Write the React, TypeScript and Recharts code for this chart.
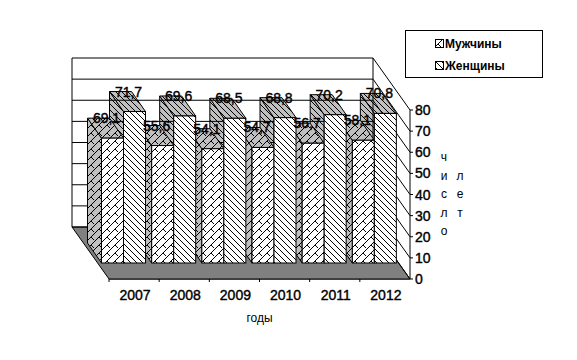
import React from "react";
import { Bar, BarChart, LabelList, Legend, XAxis, YAxis } from "recharts";

const years = ["2007", "2008", "2009", "2010", "2011", "2012"];
const men = [59.1, 55.6, 54.1, 54.7, 56.7, 58.1];
const women = [71.7, 69.6, 68.5, 68.8, 70.2, 70.8];
const menLabels = ["69,1", "55,6", "54,1", "54,7", "56,7", "58,1"];
const womenLabels = ["71,7", "69,6", "68,5", "68,8", "70,2", "70,8"];
const yTicks = [0, 10, 20, 30, 40, 50, 60, 70, 80];

const data = years.map((year, i) => ({
  year,
  men: men[i],
  women: women[i],
  menLabel: menLabels[i],
  womenLabel: womenLabels[i],
}));

const W = 577;
const H = 360;
const FONT = "'Liberation Sans', Arial, sans-serif";

// floor depth of the 3D box, and how far the bars stand back from the front edge
const WALL_DX = -37;
const WALL_DY = -52;
const BAR_DX = -11;
const BAR_DY = -16;
const SIDE_DX = -14;
const SIDE_DY = -20;

const PLOT_LEFT = 109;
const PLOT_RIGHT = 410;
const PLOT_TOP = 110;
const PLOT_BOTTOM = 279;

const backMargin = { top: PLOT_TOP, left: PLOT_LEFT, right: 0, bottom: 0 };
const frontMargin = { top: PLOT_TOP, left: PLOT_LEFT, right: W - PLOT_RIGHT, bottom: H - PLOT_BOTTOM };
const TEXT_WEIGHT = 0.4;

function Patterns() {
  const notches = "M0 8L8 0M-2 2L2 -2M6 10L10 6M3 5L6 8";
  const hatch = "M-1 -1L7 7M-4 2L2 8M2 -4L8 2";
  return (
    <svg width={0} height={0} style={{ position: "absolute" }}>
      <defs>
        <pattern id="menFront" width={8} height={8} patternUnits="userSpaceOnUse">
          <rect width={8} height={8} fill="#fff" />
          <path d={notches} stroke="#000" strokeWidth={1} fill="none" />
        </pattern>
        <pattern id="menSide" width={8} height={8} patternUnits="userSpaceOnUse">
          <rect width={8} height={8} fill="#c0c0c0" />
          <path d={notches} stroke="#000" strokeWidth={1} fill="none" />
        </pattern>
        <pattern id="womenFront" width={6} height={6} patternUnits="userSpaceOnUse">
          <rect width={6} height={6} fill="#fff" />
          <path d={hatch} stroke="#000" strokeWidth={1} fill="none" />
        </pattern>
        <pattern id="womenSide" width={6} height={6} patternUnits="userSpaceOnUse">
          <rect width={6} height={6} fill="#c0c0c0" />
          <path d={hatch} stroke="#000" strokeWidth={1} fill="none" />
        </pattern>
      </defs>
    </svg>
  );
}

const pts = (list: number[][]) => list.map((p) => p.join(",")).join(" ");
const nothing = () => null;

function sideTop(sidePattern: string) {
  return (props: any) => {
    const { x, y, width, height } = props;
    const fx = x + BAR_DX;
    const fy = y + BAR_DY;
    return (
      <g stroke="#000" strokeWidth={1} fill={`url(#${sidePattern})`}>
        <polygon points={pts([[fx, fy], [fx, fy + height], [fx + SIDE_DX, fy + height + SIDE_DY], [fx + SIDE_DX, fy + SIDE_DY]])} />
        <polygon points={pts([[fx, fy], [fx + width, fy], [fx + width + SIDE_DX, fy + SIDE_DY], [fx + SIDE_DX, fy + SIDE_DY]])} />
      </g>
    );
  };
}

function frontFace(pattern: string) {
  return (props: any) => (
    <rect
      x={props.x + BAR_DX}
      y={props.y + BAR_DY}
      width={props.width}
      height={props.height}
      fill={`url(#${pattern})`}
      stroke="#000"
      strokeWidth={1}
    />
  );
}

function BarLabel(props: any) {
  const { x, y, width, value } = props;
  return (
    <text
      x={x + BAR_DX + width / 2 - 6}
      y={y + BAR_DY + SIDE_DY + 5}
      textAnchor="middle"
      fontFamily={FONT}
      fontSize={14}
      fill="#000"
      stroke="#000"
      strokeWidth={TEXT_WEIGHT}
    >
      {value}
    </text>
  );
}

// value ticks also draw the back and side walls, so they sit on the axis scale
function WallTick(props: any) {
  const { y, payload } = props;
  const v = payload.value;
  const backL = PLOT_LEFT + WALL_DX;
  const backR = PLOT_RIGHT + WALL_DX;
  return (
    <g>
      {v === 0 && (
        <polygon
          points={pts([[backL, y + WALL_DY], [backR, y + WALL_DY], [PLOT_RIGHT, y], [PLOT_LEFT, y]])}
          fill="#808080"
          stroke="#000"
          strokeWidth={1}
        />
      )}
      {v === 80 && (
        <g stroke="#000" strokeWidth={1}>
          <line x1={backL} y1={y + WALL_DY} x2={backL} y2={PLOT_BOTTOM + WALL_DY} />
          <line x1={backR} y1={y + WALL_DY} x2={backR} y2={PLOT_BOTTOM + WALL_DY} />
        </g>
      )}
      <line x1={backL} y1={y + WALL_DY} x2={backR} y2={y + WALL_DY} stroke="#000" strokeWidth={1} />
      <line x1={backR} y1={y + WALL_DY} x2={PLOT_RIGHT} y2={y} stroke="#000" strokeWidth={1} />
      <text x={PLOT_RIGHT + 5} y={y + 5} fontFamily={FONT} fontSize={14} fill="#000" stroke="#000" strokeWidth={TEXT_WEIGHT}>
        {v}
      </text>
    </g>
  );
}

function YearTick(props: any) {
  const { x, y, payload } = props;
  const band = (PLOT_RIGHT - PLOT_LEFT) / years.length;
  return (
    <g>
      <line x1={x - band / 2} y1={PLOT_BOTTOM} x2={x - band / 2} y2={PLOT_BOTTOM + 3} stroke="#000" />
      <text x={x + 1} y={y + 13} textAnchor="middle" fontFamily={FONT} fontSize={14} fill="#000" stroke="#000" strokeWidth={TEXT_WEIGHT}>
        {payload.value}
      </text>
    </g>
  );
}

function YTitle() {
  const rows = [157, 176, 194, 213, 231];
  const left = ["ч", "и", "с", "л", "о"];
  const right = ["", "л", "е", "т", ""];
  return (
    <g fontFamily={FONT} fontSize={12} fill="#000">
      {rows.map((y, i) => (
        <g key={y}>
          <text x={444} y={y + 4} textAnchor="middle">{left[i]}</text>
          <text x={460} y={y + 4} textAnchor="middle">{right[i]}</text>
        </g>
      ))}
    </g>
  );
}

function LegendBox(props: any) {
  const items = props.payload || [];
  return (
    <div style={{ width: 138, height: 48, boxSizing: "border-box", border: "1px solid #000", background: "#fff", paddingTop: 2 }}>
      {items.map((item: any) => (
        <div key={item.value} style={{ display: "flex", alignItems: "center", height: 22, paddingLeft: 29, fontFamily: FONT, fontSize: 12, fontWeight: 700, color: "#000" }}>
          <svg width={10} height={10} style={{ marginRight: 0 }}>
            <rect x={0.5} y={0.5} width={8} height={8} fill={item.color} stroke="#000" />
          </svg>
          {item.value}
        </div>
      ))}
    </div>
  );
}

// one transparent sheet of the 3D picture: same plot area, same scales
function Sheet({ menShape, womenShape }: any) {
  return (
    <div style={layer}>
      <BarChart width={W} height={H} data={data} margin={frontMargin} barCategoryGap="7%" barGap={0}>
        <XAxis dataKey="year" hide />
        <YAxis domain={[0, 80]} ticks={yTicks} hide />
        <Bar dataKey="men" isAnimationActive={false} shape={menShape} />
        <Bar dataKey="women" isAnimationActive={false} shape={womenShape} />
      </BarChart>
    </div>
  );
}

const layer: React.CSSProperties = { position: "absolute", left: 0, top: 0 };

export default function App() {
  return (
    <div style={{ position: "absolute", left: 0, top: 0, width: W, height: H, background: "#fff" }}>
      <Patterns />
      <div style={layer}>
        <BarChart width={W} height={H} data={data} margin={backMargin} barCategoryGap="7%" barGap={0}>
          <XAxis
            dataKey="year"
            height={H - PLOT_BOTTOM}
            interval={0}
            tickLine={false}
            axisLine={{ stroke: "#000" }}
            tick={<YearTick />}
            label={{ value: "годы", position: "bottom", offset: -47, fontFamily: FONT, fontSize: 12, fill: "#000" }}
          />
          <YAxis
            orientation="right"
            domain={[0, 80]}
            ticks={yTicks}
            width={W - PLOT_RIGHT}
            tickSize={3}
            interval={0}
            axisLine={{ stroke: "#000" }}
            tickLine={{ stroke: "#000" }}
            tick={<WallTick />}
            label={{ content: <YTitle /> }}
          />
          <Bar dataKey="men" isAnimationActive={false} shape={nothing} />
          <Bar dataKey="women" isAnimationActive={false} shape={sideTop("womenSide")} />
        </BarChart>
      </div>
      <Sheet menShape={sideTop("menSide")} womenShape={nothing} />
      <Sheet menShape={frontFace("menFront")} womenShape={frontFace("womenFront")} />
      <div style={layer}>
        <BarChart width={W} height={H} data={data} margin={frontMargin} barCategoryGap="7%" barGap={0}>
          <XAxis dataKey="year" hide />
          <YAxis domain={[0, 80]} ticks={yTicks} hide />
          <Legend
            layout="horizontal"
            align="center"
            verticalAlign="middle"
            itemSorter={null}
            content={<LegendBox />}
            wrapperStyle={{ left: 405, top: 30, width: 138, height: 48 }}
          />
          <Bar dataKey="men" name="Мужчины" fill="url(#menFront)" isAnimationActive={false} shape={nothing}>
            <LabelList dataKey="menLabel" content={<BarLabel />} />
          </Bar>
          <Bar dataKey="women" name="Женщины" fill="url(#womenFront)" isAnimationActive={false} shape={nothing}>
            <LabelList dataKey="womenLabel" content={<BarLabel />} />
          </Bar>
        </BarChart>
      </div>
    </div>
  );
}
